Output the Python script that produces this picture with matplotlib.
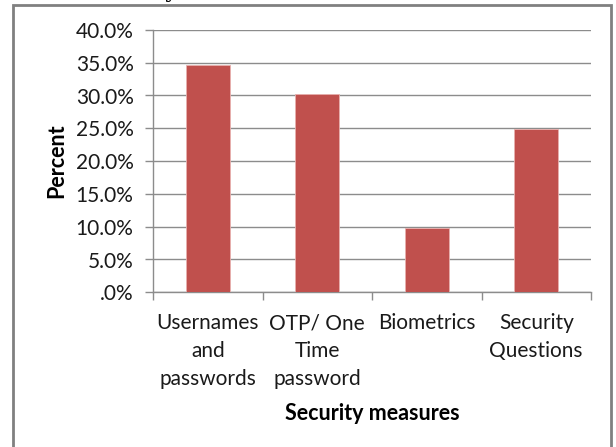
import matplotlib.pyplot as plt
from matplotlib.patches import Rectangle
from matplotlib.ticker import FuncFormatter

categories = ["Usernames\nand\npasswords", "OTP/ One\nTime\npassword", "Biometrics", "Security\nQuestions"]
percent = [34.7, 30.3, 9.8, 24.9]
y_ticks = [0, 5, 10, 15, 20, 25, 30, 35, 40]

bar_color = "#C0504D"
grid_color = "#8C8C8C"
font = "Lato"

fig = plt.figure(figsize=(6.16, 4.47), dpi=100)
ax = fig.add_axes([153 / 616, 1 - 292.3 / 447, (591 - 153) / 616, (292.3 - 29.9) / 447])

x = list(range(len(categories)))
ax.bar(x, percent, width=0.4, color=bar_color, edgecolor="#E8B0AE", linewidth=0.6, zorder=3)

ax.set_xlim(-0.5, len(categories) - 0.5)
ax.set_ylim(0, 40)
ax.set_yticks(y_ticks)
ax.yaxis.set_major_formatter(FuncFormatter(lambda v, p: ".0%" if v == 0 else f"{v:.1f}%"))
ax.grid(axis="y", color=grid_color, linewidth=1.0, zorder=0)

# category boundary ticks, labels centred between them
ax.set_xticks([i - 0.5 for i in range(len(categories) + 1)])
ax.set_xticklabels([])
ax.set_xticks(x, minor=True)
ax.set_xticklabels(categories, minor=True, fontsize=15, family=font, color="#1a1a1a", linespacing=1.5)
ax.tick_params(axis="x", which="minor", length=0, pad=15)
ax.tick_params(axis="x", which="major", length=6, color=grid_color, width=1)
ax.tick_params(axis="y", length=6, color=grid_color, width=1, labelsize=15, labelcolor="#1a1a1a", pad=8)
for lbl in ax.get_yticklabels():
    lbl.set_family(font)

for s in ["top", "right"]:
    ax.spines[s].set_visible(False)
for s in ["left", "bottom"]:
    ax.spines[s].set_color(grid_color)
    ax.spines[s].set_linewidth(1)

ax.set_ylabel("Percent", fontsize=15.5, fontweight="bold", family=font, labelpad=6)
ax.set_xlabel("Security measures", fontsize=15.5, fontweight="bold", family=font, labelpad=10)

# outer chart frame
fig.patches.append(Rectangle((13 / 616, -0.05), (611 - 13) / 616, 1.05 - 5 / 447,
                             transform=fig.transFigure, fill=False, edgecolor="#808080", linewidth=2))
# cut-off caption above the frame
fig.text(170 / 616, 1.0 + 2 / 447, "y", fontsize=14, family="DejaVu Serif", fontweight="bold",
         ha="center", va="baseline")

fig.savefig("out.png", dpi=100)
